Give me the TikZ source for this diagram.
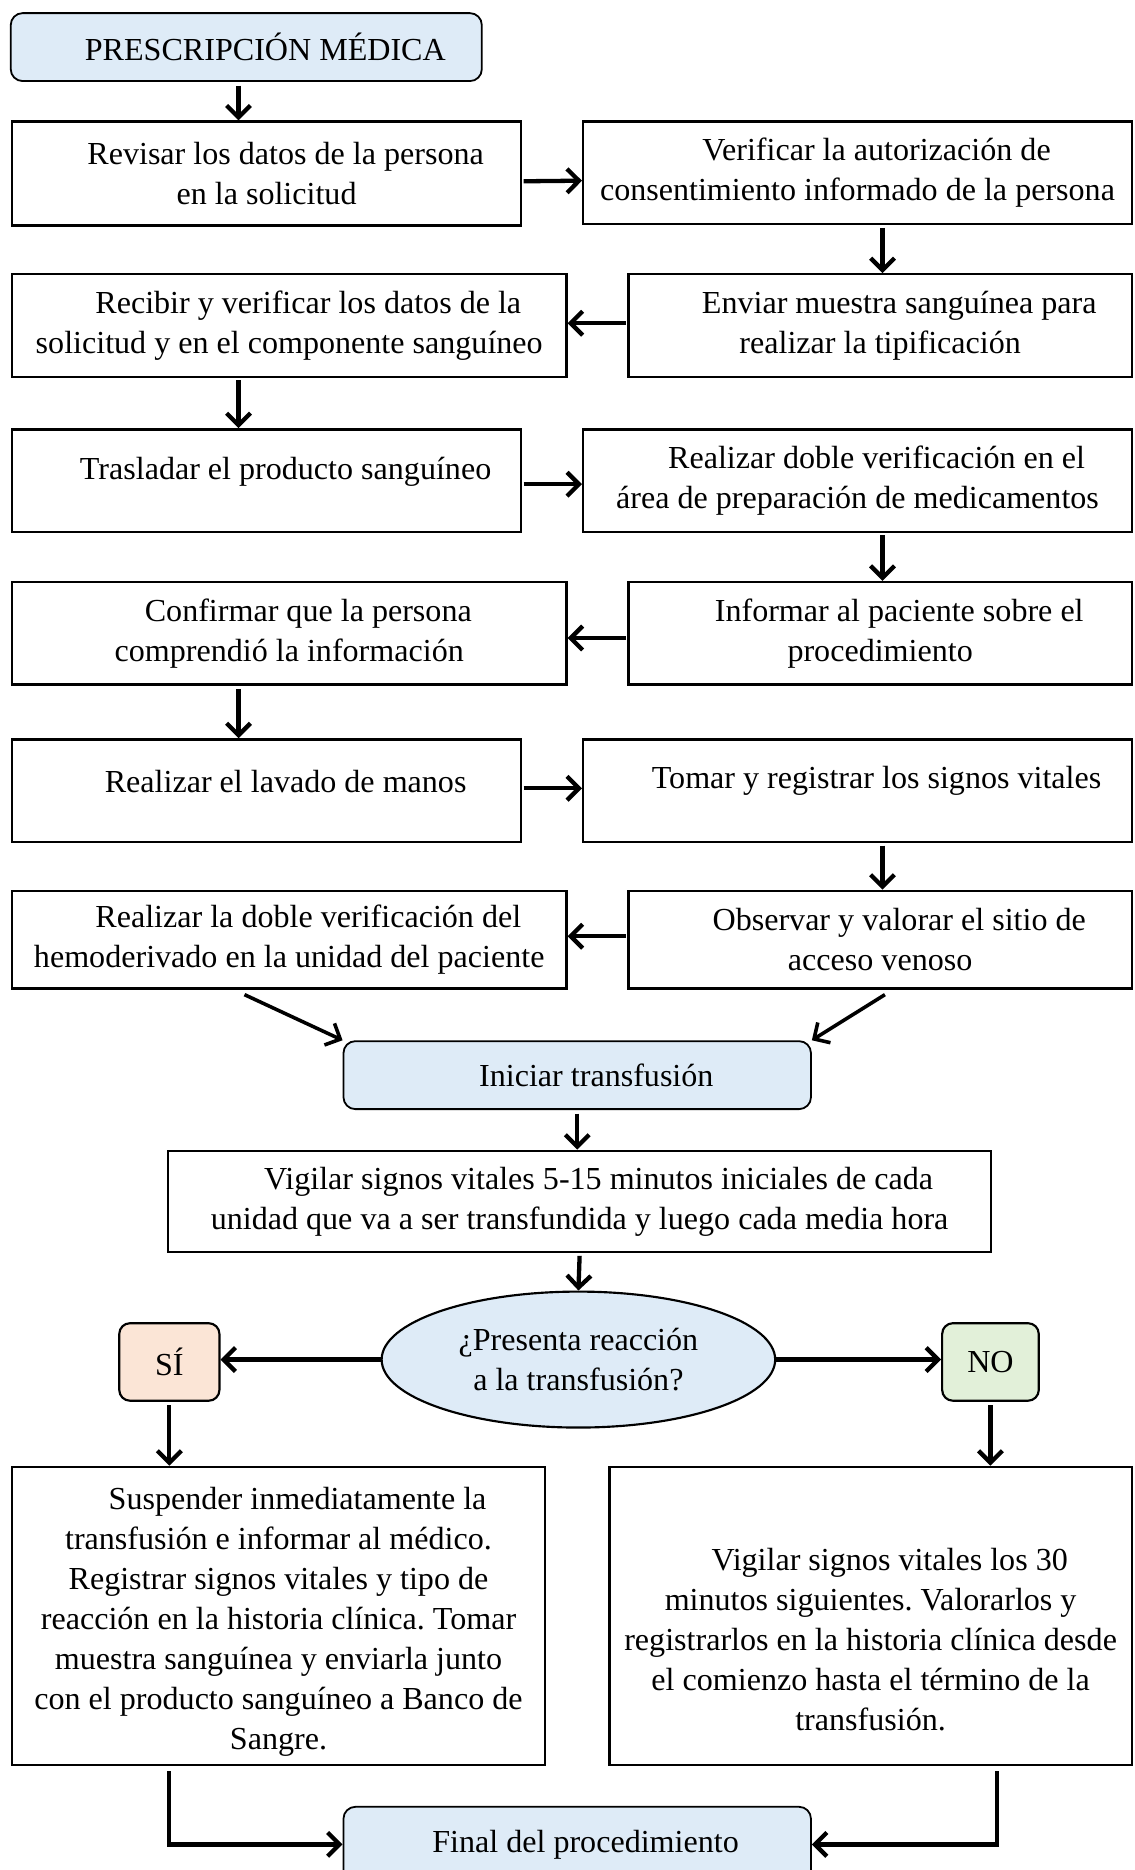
\documentclass[tikz,border=0pt]{standalone}
\usepackage{fontspec}
\setmainfont{Liberation Serif}
\usetikzlibrary{arrows.meta,shapes.geometric,calc}
\definecolor{lblue}{HTML}{DEEBF7}
\definecolor{lpeach}{HTML}{FBE5D6}
\definecolor{lgreen}{HTML}{E2F0D9}
\newcommand{\ind}{\hspace*{32pt}}
\frenchspacing
\begin{document}
\begin{tikzpicture}[x=1pt,y=-1pt,
  every node/.style={font=\fontsize{26.9}{33.6}\selectfont, inner sep=0pt, align=center},
  box/.style={draw, line width=2pt, rectangle},
  rbox/.style={draw, line width=1.5pt, rounded corners=10pt, fill=lblue},
  arr/.style={line width=3.6pt, -{Straight Barb[length=10pt,width=20pt]}},
]
\useasboundingbox (0,0) rectangle (951,1568);
\fill[white] (0,0) rectangle (951,1568);

% top
\node[rbox, minimum width=395pt, minimum height=57pt] (Top) at (206.5,39.5) {\ind PRESCRIPCIÓN MÉDICA};

% rows
\node[box, minimum width=427pt, minimum height=87pt] (A1) at (223.5,145.5) {\ind Revisar los datos de la persona\\en la solicitud};
\node[box, minimum width=460pt, minimum height=86pt] (B1) at (719,145) {\ind Verificar la autorización de\\consentimiento informado de la persona};

\node[box, minimum width=465pt, minimum height=86pt] (A2) at (242.5,273) {\ind Recibir y verificar los datos de la\\solicitud y en el componente sanguíneo};
\node[box, minimum width=422pt, minimum height=86pt] (B2) at (738,273) {\ind Enviar muestra sanguínea para\\realizar la tipificación};

\node[box, minimum width=427pt, minimum height=86pt] (A3) at (223.5,403) {};
\node (A3t) at (223.5,396) {\ind Trasladar el producto sanguíneo};
\node[box, minimum width=460pt, minimum height=86pt] (B3) at (719,403) {\ind Realizar doble verificación en el\\área de preparación de medicamentos};

\node[box, minimum width=465pt, minimum height=86pt] (A4) at (242.5,531) {\ind Confirmar que la persona\\comprendió la información};
\node[box, minimum width=422pt, minimum height=86pt] (B4) at (738,531) {\ind Informar al paciente sobre el\\procedimiento};

\node[box, minimum width=427pt, minimum height=86pt] (A5) at (223.5,663) {};
\node (A5t) at (223.5,655) {\ind Realizar el lavado de manos};
\node[box, minimum width=460pt, minimum height=86pt] (B5) at (719,663) {};
\node (B5t) at (719,655) {\ind Tomar y registrar los signos vitales};

\node[box, minimum width=465pt, minimum height=82pt] (A6) at (242.5,788) {\ind Realizar la doble verificación del\\hemoderivado en la unidad del paciente};
\node[box, minimum width=422pt, minimum height=82pt] (B6) at (738,788) {\ind Observar y valorar el sitio de\\acceso venoso};

\node[rbox, minimum width=392pt, minimum height=57pt] (Ini) at (484,901.5) {\ind Iniciar transfusión};
\node[box, minimum width=690pt, minimum height=85pt] (Vig) at (486,1007.5) {\ind Vigilar signos vitales 5-15 minutos iniciales de cada\\unidad que va a ser transfundida y luego cada media hora};

\node[ellipse, draw, line width=1.8pt, fill=lblue, minimum width=330pt, minimum height=114pt] (Q) at (485,1140) {¿Presenta reacción\\a la transfusión?};
\node[draw, line width=1.8pt, rounded corners=9pt, fill=lpeach, minimum width=84pt, minimum height=65pt] (SI) at (142,1142) {SÍ};
\node[draw, line width=1.8pt, rounded corners=9pt, fill=lgreen, minimum width=81pt, minimum height=65pt] (NO) at (830.5,1142) {NO};

\node[box, minimum width=447pt, minimum height=250pt] (Sus) at (233.5,1355) {};
\node (Sust) at (233.5,1360) {\ind Suspender inmediatamente la\\transfusión e informar al médico.\\Registrar signos vitales y tipo de\\reacción en la historia clínica. Tomar\\muestra sanguínea y enviarla junto\\con el producto sanguíneo a Banco de\\Sangre.};
\node[box, minimum width=438pt, minimum height=250pt] (V30) at (730,1355) {};
\node (V30t) at (730,1375) {\ind Vigilar signos vitales los 30\\minutos siguientes. Valorarlos y\\registrarlos en la historia clínica desde\\el comienzo hasta el término de la\\transfusión.};

\node[rbox, minimum width=392pt, minimum height=63pt] (Fin) at (484,1546.5) {\hspace*{14pt}Final del procedimiento};

% arrows
\draw[arr] ([xshift=-6.5pt,yshift=-3pt]Top.south) -- ([xshift=-6.5pt]Top.south |- A1.north);
\draw[arr] ([xshift=1pt,yshift=-6.5pt]A1.east) -- ([yshift=-6.5pt]B1.west);
\draw[arr] ([xshift=21pt,yshift=-2pt]B1.south) -- ([xshift=21pt]B1.south |- B2.north);
\draw[arr] ([xshift=-1pt,yshift=2pt]B2.west) -- ([yshift=2pt]A2.east);
\draw[arr] ([xshift=-42.5pt,yshift=-2pt]A2.south) -- ([xshift=-42.5pt]A2.south |- A3.north);
\draw[arr] ([xshift=1pt,yshift=-3pt]A3.east) -- ([yshift=-3pt]B3.west);
\draw[arr] ([xshift=21pt,yshift=-2pt]B3.south) -- ([xshift=21pt]B3.south |- B4.north);
\draw[arr] ([xshift=-1pt,yshift=-4pt]B4.west) -- ([yshift=-4pt]A4.east);
\draw[arr] ([xshift=-42.5pt,yshift=-3pt]A4.south) -- ([xshift=-42.5pt]A4.south |- A5.north);
\draw[arr] ([xshift=1pt,yshift=2pt]A5.east) -- ([yshift=2pt]B5.west);
\draw[arr] ([xshift=21pt,yshift=-2pt]B5.south) -- ([xshift=21pt]B5.south |- B6.north);
\draw[arr] ([xshift=-1pt,yshift=3pt]B6.west) -- ([yshift=3pt]A6.east);
\draw[arr, line width=3pt] ([xshift=-37.5pt,yshift=-4pt]A6.south) -- (Ini.north west);
\draw[arr, line width=3pt] ([xshift=4pt,yshift=-4pt]B6.south) -- (Ini.north east);
\draw[arr] ([yshift=-3pt]Ini.south) -- (Ini.south |- Vig.north);
\draw[arr] ([yshift=-2pt]Vig.south) -- (Q.north);
\draw[arr] (Q.west) -- (Q.west -| SI.east);
\draw[arr] (Q.east) -- (Q.east -| NO.west);
\draw[arr] ([yshift=-3pt]SI.south) -- (SI.south |- Sus.north);
\draw[arr] ([yshift=-3pt]NO.south) -- (NO.south |- V30.north);
\draw[arr] ([yshift=-4pt]SI.south |- Sus.south) |- (Fin.west);
\draw[arr] ([xshift=106pt,yshift=-4pt]V30.south) |- (Fin.east);
\end{tikzpicture}
\end{document}
